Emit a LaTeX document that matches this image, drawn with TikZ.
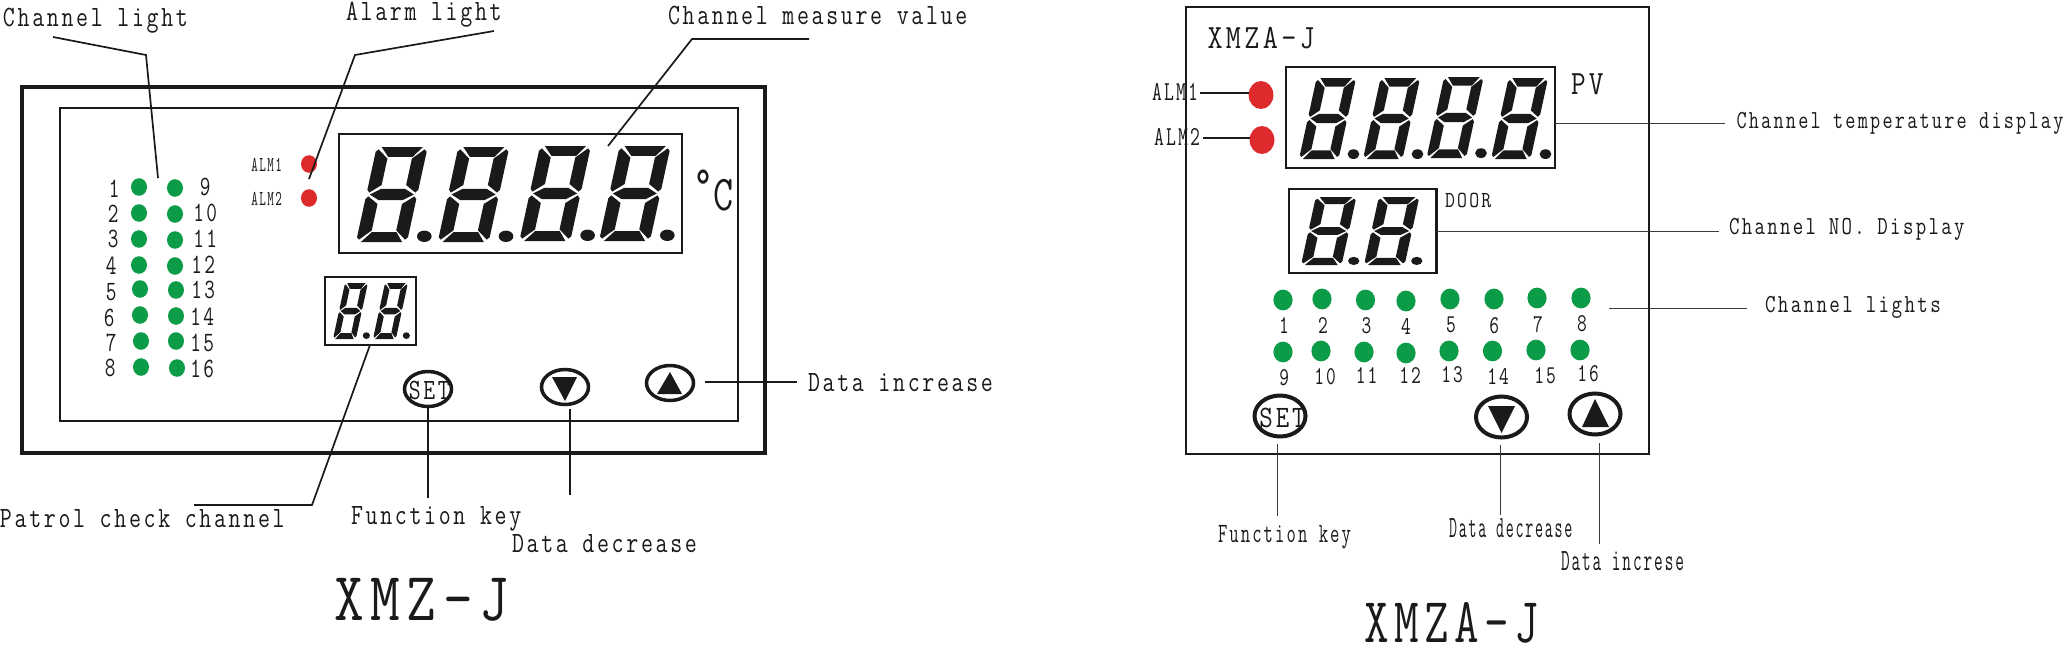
\documentclass[tikz,border=0pt]{standalone}
\usepackage{fontspec}
\setmonofont[LetterSpace=11.5]{Latin Modern Mono}
\usetikzlibrary{shapes.geometric}
\definecolor{ink}{HTML}{1A1A1A}
\definecolor{ledgreen}{HTML}{0C9C48}
\definecolor{ledred}{HTML}{DD2A2C}
\newcommand{\txt}[3]{\scalebox{#2}[1]{\scalebox{.82}[1]{\fontsize{#1}{#1}\selectfont\ttfamily #3\kern-.115em}}}
% digit: x-left, y-top, upright width, height, slant
\newcommand{\segdigit}[5]{%
  \begin{scope}[shift={(#1+#5,#2)},x={(#3*.5pt,0)},y={(-#5*.5pt,-#4*.5pt)}]
    \fill[ink] (.10,0) -- (.94,0) -- (.78,.105) -- (.28,.105) -- cycle;
    \fill[ink] (.10,1) -- (.94,1) -- (.78,.895) -- (.28,.895) -- cycle;
    \fill[ink] (.07,.50) -- (.27,.442) -- (.77,.442) -- (.97,.50) -- (.77,.558) -- (.27,.558) -- cycle;
    \fill[ink] (0,.05) -- (.05,.025) -- (.27,.122) -- (.27,.40) -- (.05,.48) -- (0,.45) -- cycle;
    \fill[ink] (1.04,.05) -- (.99,.025) -- (.77,.122) -- (.77,.40) -- (.99,.48) -- (1.04,.45) -- cycle;
    \fill[ink] (0,.95) -- (.05,.975) -- (.27,.878) -- (.27,.60) -- (.05,.52) -- (0,.55) -- cycle;
    \fill[ink] (1.04,.95) -- (.99,.975) -- (.77,.878) -- (.77,.60) -- (.99,.52) -- (1.04,.55) -- cycle;
  \end{scope}
  \pgfmathsetmacro\dotrx{.105*(#3+#5)*.5}
  \pgfmathsetmacro\dotry{.06*#4*.5}
  \fill[ink] ({#1+.98*(#3+#5)},{#2+.94*#4}) ellipse [x radius=\dotrx pt,y radius=\dotry pt];
}
\tikzset{
  lab/.style={inner sep=0pt,outer sep=0pt,text=ink,anchor=base west},
  num/.style={inner sep=0pt,outer sep=0pt,text=ink,anchor=center},
  panel/.style={draw=ink,rectangle,inner sep=0pt,outer sep=0pt,line width=1pt},
  ledg/.style={ellipse,fill=ledgreen,inner sep=0pt,outer sep=0pt,minimum width=8pt,minimum height=8.8pt},
  ledgb/.style={ellipse,fill=ledgreen,inner sep=0pt,outer sep=0pt,minimum width=9.6pt,minimum height=10.4pt},
  ledr/.style={ellipse,fill=ledred,inner sep=0pt,outer sep=0pt,minimum width=8pt,minimum height=8.8pt},
  ledrb/.style={ellipse,fill=ledred,inner sep=0pt,outer sep=0pt,minimum width=12.4pt,minimum height=14pt},
  btn/.style={ellipse,draw=ink,fill=white,line width=1.75pt,inner sep=0pt,outer sep=0pt,minimum width=23.5pt,minimum height=17.5pt},
  btnb/.style={ellipse,draw=ink,fill=white,line width=2pt,inner sep=0pt,outer sep=0pt,minimum width=25.5pt,minimum height=20.5pt},
  lead/.style={draw=ink,line width=.85pt},
  leadthick/.style={draw=ink,line width=1.2pt},
  leadthin/.style={draw=ink!85,line width=.5pt},
}
\begin{document}
\begin{tikzpicture}[x=.5pt,y=-.5pt]
\path[use as bounding box,fill=white] (0,0) rectangle (2065,653);

% ===== left unit =====
\node[panel,line width=2.3pt,minimum width=371.5pt,minimum height=183pt] (outerL) at (393.5,270) {};
\node[panel,minimum width=339pt,minimum height=156.5pt] (innerL) at (399,264.5) {};
\node[panel,minimum width=171.5pt,minimum height=59.5pt] (bigL) at (510.5,193.5) {};
\node[panel,minimum width=45.5pt,minimum height=34pt] (smallL) at (370.5,311) {};
\segdigit{356}{147}{49}{95}{20.7}
\segdigit{437.7}{147}{49}{95}{20.7}
\segdigit{519.3}{146}{49}{95}{20.7}
\segdigit{599}{146}{49}{95}{20.7}
\segdigit{333}{283}{22}{56}{12}
\segdigit{373}{283}{22}{56}{12}

\foreach \n/\x/\y in {1/139/187,2/139/213,3/139/239,4/139/265,5/140/289,6/140/315,7/141/341,8/141/367,
  9/175/188,10/175/214,11/175/240,12/175/266,13/176/290,14/176/316,15/176/341,16/177/368}
  \node[ledg] (gl\n) at (\x,\y) {};
\foreach \n/\x/\y in {1/113/189,2/112/214,3/112/239,4/110/266,5/110/292,6/108/318,7/110/343,8/109/368,
  9/204/187,10/204/213,11/204/239,12/202/265,13/202/290,14/201/317,15/201/343,16/201/369}
  \node[num] (nl\n) at (\x,\y) {\txt{14}{.9}{\n}};

\node[ledr] (ral1) at (309,164) {};
\node[ledr] (ral2) at (309,198) {};
\node[num] (alm1L) at (266,165) {\txt{10.6}{.72}{ALM1}};
\node[num] (alm2L) at (266,199) {\txt{10.6}{.72}{ALM2}};
\node[lab] (degL) at (693,210) {\txt{25}{.95}{\raisebox{.2em}{°}C}};

\node[btn] (setL) at (428,389) {};
\node[btn] (downL) at (565,387) {};
\node[btn] (upL) at (670,383) {};
\node[num] (setLt) at (428,390) {\txt{14.75}{.95}{SET}};
\fill[ink] (552,377) -- (577,377) -- (565,401) -- cycle;
\fill[ink] (657,394) -- (682,394) -- (670,372) -- cycle;

\node[lab] (tChL) at (3,26) {\txt{14.75}{.96}{Channel light}};
\node[lab] (tAl) at (346,20) {\txt{14.75}{.96}{Alarm light}};
\node[lab] (tMe) at (668,25) {\txt{14.75}{.96}{Channel measure value}};
\node[lab] (tPa) at (0,527) {\txt{14.75}{.96}{Patrol check channel}};
\node[lab] (tFuL) at (351,524) {\txt{14.75}{.96}{Function key}};
\node[lab] (tDeL) at (512,552) {\txt{14.75}{.96}{Data decrease}};
\node[lab] (tInL) at (808,391) {\txt{14.75}{.96}{Data increase}};
\node[lab] (tXMZ) at (334,620) {\txt{34.5}{1.02}{XMZ-J}};

\coordinate (c1a) at (53,37); \coordinate (c1b) at (146,55); \coordinate (c1c) at (158,178);
\coordinate (c2a) at (494,31); \coordinate (c2b) at (355,55); \coordinate (c2c) at (309,179);
\coordinate (c3a) at (809,39); \coordinate (c3b) at (692,39); \coordinate (c3c) at (608,146);
\coordinate (c4a) at (194,505); \coordinate (c4b) at (312,505); \coordinate (c4c) at (370,345);
\coordinate (c5a) at (428,408); \coordinate (c5b) at (428,498);
\coordinate (c6a) at (570,409); \coordinate (c6b) at (570,495);
\coordinate (c7a) at (705,382); \coordinate (c7b) at (797,382);
\draw[lead] (c1a) -- (c1b) -- (c1c);
\draw[lead] (c2a) -- (c2b) -- (c2c);
\draw[lead] (c3a) -- (c3b) -- (c3c);
\draw[lead] (c4a) -- (c4b) -- (c4c);
\draw[lead] (c5a) -- (c5b);
\draw[lead] (c6a) -- (c6b);
\draw[leadthick] (c7a) -- (c7b);

% ===== right unit =====
\node[panel,line width=1.25pt,minimum width=231.5pt,minimum height=223.5pt] (outerR) at (1417.5,230.5) {};
\node[panel,line width=1.25pt,minimum width=134.5pt,minimum height=50.5pt] (bigR) at (1420.5,117.5) {};
\node[panel,line width=1.1pt,minimum width=73.75pt,minimum height=42pt] (smallR) at (1362.75,231) {};
\segdigit{1299}{78}{38}{81}{17.6}
\segdigit{1363}{78}{38}{81}{17.6}
\segdigit{1426.5}{77}{38}{81}{17.6}
\segdigit{1491}{78}{38}{81}{17.6}
\segdigit{1301}{197}{39}{68}{14.8}
\segdigit{1364}{197}{39}{68}{14.8}

\node[ledrb] (rar1) at (1261,95) {};
\node[ledrb] (rar2) at (1262,140) {};
\node[lab] (alm1R) at (1152,100) {\txt{13.7}{.85}{ALM1}};
\node[lab] (alm2R) at (1154,145) {\txt{13.7}{.85}{ALM2}};
\coordinate (d1) at (1200,93); \coordinate (d2) at (1203,138);
\draw[leadthick] (d1) -- (rar1.west |- d1);
\draw[leadthick] (d2) -- (rar2.west |- d2);

\node[lab] (tXi) at (1207.5,48) {\txt{17}{1.05}{XMZA-J}};
\node[lab] (tPV) at (1571,94) {\txt{17}{1.02}{PV}};
\node[lab] (tDoor) at (1445,207) {\txt{11.5}{1.02}{DOOR}};

\foreach \n/\x/\y in {1/1283/326,2/1322/326,3/1365.5/326,4/1405/326,5/1450/325,6/1493/326,7/1537/325,8/1581/324,
  9/1283/378,10/1324/377,11/1365.5/376,12/1409/376,13/1451/375,14/1497/376,15/1544/376,16/1587/374}
  \node[num] (nr\n) at (\x,\y) {\txt{12.8}{.9}{\n}};
\foreach \n/\x/\y in {1/1283/300,2/1322/299,3/1365.5/300,4/1406/301,5/1450/299,6/1494/299,7/1537/298,8/1581/298,
  9/1283/352,10/1321/351,11/1364/352,12/1406/353,13/1449/351,14/1492.5/351,15/1536/350,16/1580/350}
  \node[ledgb] (gr\n) at (\x,\y) {};

\node[btnb] (setR) at (1280,416) {};
\node[btnb] (downR) at (1501.5,417) {};
\node[btnb] (upR) at (1595,414) {};
\node[num] (setRt) at (1281,418) {\txt{15.6}{1.02}{SET}};
\fill[ink] (1488,406) -- (1515,406) -- (1501.5,433) -- cycle;
\fill[ink] (1582,427) -- (1609,427) -- (1595,399) -- cycle;

\node[lab] (tTe) at (1736.5,128) {\txt{13}{.92}{Channel temperature display}};
\node[lab] (tNo) at (1729,234) {\txt{13}{.95}{Channel NO. Display}};
\node[lab] (tLi) at (1765,312) {\txt{13}{.96}{Channel lights}};
\node[lab] (tFuR) at (1218,542) {\txt{14}{.79}{Function key}};
\node[lab] (tDeR) at (1449,537) {\txt{15.5}{.61}{Data decrease}};
\node[lab] (tInR) at (1561,570) {\txt{15.5}{.66}{Data increse}};
\node[lab] (tXb) at (1364,642) {\txt{32}{.91}{XMZA-J}};

\coordinate (e1) at (1725,123); \coordinate (e2) at (1719,231);
\coordinate (e3a) at (1609,308); \coordinate (e3b) at (1747,308);
\coordinate (e4a) at (1277,444); \coordinate (e4b) at (1277,516);
\coordinate (e5a) at (1500,445); \coordinate (e5b) at (1500,515);
\coordinate (e6a) at (1599,443); \coordinate (e6b) at (1599,544);
\draw[leadthin] (bigR.east |- e1) -- (e1);
\draw[leadthin] (smallR.east |- e2) -- (e2);
\draw[leadthin] (e3a) -- (e3b);
\draw[leadthin] (e4a) -- (e4b);
\draw[leadthin] (e5a) -- (e5b);
\draw[leadthin] (e6a) -- (e6b);
\end{tikzpicture}
\end{document}
